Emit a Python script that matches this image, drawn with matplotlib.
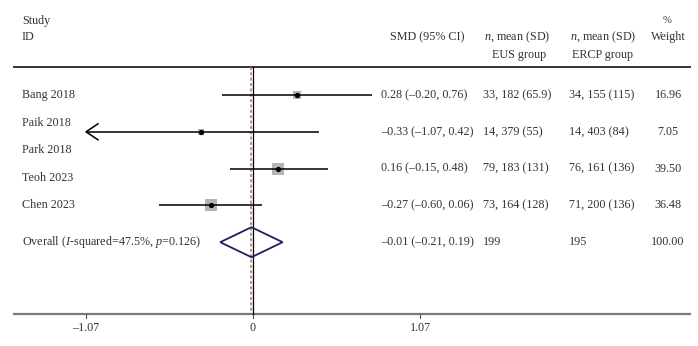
import matplotlib
matplotlib.use("Agg")
import matplotlib.pyplot as plt
from matplotlib.patches import Polygon

# ---------------- data ----------------
study_labels = ["Bang 2018", "Paik 2018", "Park 2018", "Teoh 2023", "Chen 2023"]
plot_studies = ["Bang 2018", "Paik 2018", "Teoh 2023", "Chen 2023"]
smd = [0.28, -0.33, 0.16, -0.27]
ci_lo = [-0.20, -1.07, -0.15, -0.60]
ci_hi = [0.76, 0.42, 0.48, 0.06]
weights = [16.96, 7.05, 39.50, 36.48]
n_eus = [33, 14, 79, 73]
mean_eus = [182, 379, 183, 164]
sd_eus = [65.9, 55, 131, 128]
n_ercp = [34, 14, 76, 71]
mean_ercp = [155, 403, 161, 200]
sd_ercp = [115, 84, 136, 136]
overall_smd = -0.01
overall_lo = -0.21
overall_hi = 0.19
overall_n_eus = 199
overall_n_ercp = 195
overall_weight = 100.00
overall_label = "Overall ($I$-squared=47.5%, $p$=0.126)"
xticks = [-1.07, 0, 1.07]
xtick_labels = ["\u20131.07", "0", "1.07"]
x_min = -1.07

# ---------------- style ----------------
plt.rcParams["font.family"] = ["Liberation Serif", "DejaVu Serif"]
plt.rcParams["mathtext.fontset"] = "custom"
plt.rcParams["mathtext.rm"] = "Liberation Serif"
plt.rcParams["mathtext.it"] = "Liberation Serif:italic"
FS = 8.7
TC = "#333333"

W, H = 698, 346
ZERO_PX, UNIT_PX = 253.0, 156.07
ROW0_PX, ROW_PX = 95.0, 36.8


def px2x(px):
    return (px - ZERO_PX) / UNIT_PX


def px2y(py):
    return (py - ROW0_PX) / ROW_PX


def fmt(v):
    s = f"{v:.2f}"
    return s.replace("-", "\u2013")


fig = plt.figure(figsize=(W / 100, H / 100), dpi=100)
ax = fig.add_axes([0, 0, 1, 1])
ax.set_xlim(px2x(0), px2x(W))
ax.set_ylim(px2y(H), px2y(0))
ax.axis("off")

# header
ax.text(px2x(22), px2y(21), "Study", fontsize=FS, color=TC, ha="left", va="center")
ax.text(px2x(22), px2y(37), "ID", fontsize=FS, color=TC, ha="left", va="center")
ax.text(px2x(427), px2y(37), "SMD (95% CI)", fontsize=FS, color=TC, ha="center", va="center")
ax.text(px2x(517.5), px2y(37), "$n$, mean (SD)", fontsize=FS, color=TC, ha="center", va="center")
ax.text(px2x(519.5), px2y(55), "EUS group", fontsize=FS, color=TC, ha="center", va="center")
ax.text(px2x(603), px2y(37), "$n$, mean (SD)", fontsize=FS, color=TC, ha="center", va="center")
ax.text(px2x(603), px2y(55), "ERCP group", fontsize=FS, color=TC, ha="center", va="center")
ax.text(px2x(667), px2y(21), "%", fontsize=FS - 1, color=TC, ha="center", va="center")
ax.text(px2x(668.5), px2y(37), "Weight", fontsize=FS, color=TC, ha="center", va="center")

# top rule
ax.plot([px2x(13), px2x(691)], [px2y(67)] * 2, color="black", lw=1.1, solid_capstyle="butt")

# axis line at bottom
axis_y = px2y(314)
ax.plot([px2x(13), px2x(691)], [axis_y] * 2, color="#7a7a7a", lw=1.6, solid_capstyle="butt")
for t, lab in zip(xticks, xtick_labels):
    ax.plot([t, t], [axis_y, px2y(318)], color="#555555", lw=0.8)
    ax.text(t, px2y(328), lab, fontsize=FS, color=TC, ha="center", va="center")

# reference lines
ax.plot([0, 0], [px2y(67), axis_y], color="black", lw=0.9)
ax.plot([overall_smd, overall_smd], [px2y(67), axis_y], color="#b07070",
        lw=1.1, linestyle=(0, (2, 1.5)))

# left labels (study names)
for i, lab in enumerate(study_labels):
    ax.text(px2x(22), i * 0.75, lab, fontsize=FS, color=TC, ha="left", va="center")
ax.text(px2x(22), len(plot_studies), overall_label, fontsize=FS, color=TC,
        ha="left", va="center")

# study rows
head_dx = 12 / UNIT_PX
head_dy = 8 / ROW_PX
for r, (m, lo, hi, w) in enumerate(zip(smd, ci_lo, ci_hi, weights)):
    ax.scatter([m], [r], marker="s", s=1.9 * w, color="#b4b4b4", zorder=3, linewidths=0)
    left = max(lo, x_min)
    ax.plot([left, hi], [r, r], color="black", lw=1.1, zorder=4, solid_capstyle="butt")
    if lo <= x_min:
        ax.plot([x_min + head_dx, x_min, x_min + head_dx],
                [r - head_dy, r, r + head_dy], color="black", lw=1.1, zorder=4)
    ax.plot([m], [r], marker="o", markersize=2.8, color="black", zorder=5)

    smd_txt = f"{fmt(m)} ({fmt(lo)}, {fmt(hi)})"
    ax.text(px2x(381), r, smd_txt, fontsize=FS, color=TC, ha="left", va="center")
    ax.text(px2x(483), r, f"{n_eus[r]}, {mean_eus[r]} ({sd_eus[r]:g})", fontsize=FS,
            color=TC, ha="left", va="center")
    ax.text(px2x(569), r, f"{n_ercp[r]}, {mean_ercp[r]} ({sd_ercp[r]:g})", fontsize=FS,
            color=TC, ha="left", va="center")
    ax.text(px2x(668), r, f"{w:.2f}", fontsize=FS, color=TC, ha="center", va="center")

# overall diamond
ro = len(plot_studies)
hh = 15 / ROW_PX
diamond = Polygon([(overall_lo, ro), (overall_smd, ro - hh), (overall_hi, ro),
                   (overall_smd, ro + hh)], closed=True, fill=False,
                  edgecolor="#1f2060", lw=1.3, zorder=4)
ax.add_patch(diamond)
ax.text(px2x(381), ro, f"{fmt(overall_smd)} ({fmt(overall_lo)}, {fmt(overall_hi)})",
        fontsize=FS, color=TC, ha="left", va="center")
ax.text(px2x(483), ro, f"{overall_n_eus}", fontsize=FS, color=TC, ha="left", va="center")
ax.text(px2x(569), ro, f"{overall_n_ercp}", fontsize=FS, color=TC, ha="left", va="center")
ax.text(px2x(668), ro, f"{overall_weight:.2f}", fontsize=FS, color=TC, ha="center", va="center")

fig.savefig("out.png", dpi=100, facecolor="white")
